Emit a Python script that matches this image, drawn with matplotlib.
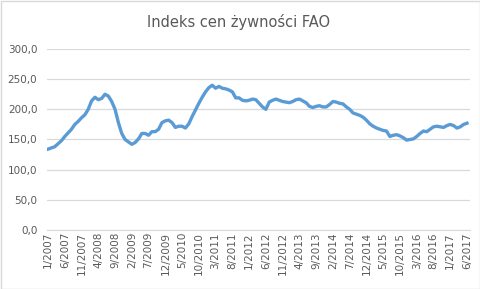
import numpy as np
import matplotlib
matplotlib.use('Agg')
import matplotlib.pyplot as plt
from matplotlib.patches import Rectangle

# monthly FAO food price index, 1/2007 .. 6/2017
values = [
    134, 136, 138, 143, 148, 155, 161, 167, 175, 180, 186, 191,   # 2007
    200, 214, 220, 216, 218, 225, 222, 213, 200, 178, 160, 150,   # 2008
    146, 142, 145, 151, 160, 160, 157, 163, 163, 167, 178, 181,   # 2009
    182, 178, 170, 172, 172, 169, 176, 188, 199, 210, 220, 229,   # 2010
    236, 240, 235, 238, 235, 234, 232, 229, 219, 219, 215, 214,   # 2011
    215, 217, 216, 210, 204, 200, 212, 215, 217, 215, 213, 212,   # 2012
    211, 213, 216, 217, 214, 211, 205, 203, 205, 206, 204, 204,   # 2013
    208, 213, 212, 210, 209, 204, 200, 194, 192, 190, 187, 182,   # 2014
    176, 172, 169, 167, 165, 164, 155, 157, 158, 156, 153, 149,   # 2015
    150, 151, 155, 160, 164, 163, 167, 171, 172, 171, 170, 173,   # 2016
    175, 173, 169, 171, 175, 177,                                 # 2017
]
months = ['%d/%d' % (m, y) for y in range(2007, 2018) for m in range(1, 13)][:len(values)]
yticks = [0, 50, 100, 150, 200, 250, 300]

W, H = 481, 289
fig = plt.figure(figsize=(W / 100, H / 100), dpi=100)
fig.patches.append(Rectangle((0.5 / W, 0.5 / H), 1 - 1.5 / W, 1 - 1.5 / H,
                             transform=fig.transFigure, fill=False,
                             edgecolor='#d9d9d9', lw=1))

ax = fig.add_axes([47 / W, 1 - 230 / H, 423 / W, 181 / H])
x = np.arange(len(values))
ax.plot(x, values, color='#5b9bd5', lw=2.4, solid_joinstyle='round', zorder=3)

ax.set_ylim(0, 300)
ax.set_xlim(-0.3, 125.9)
ax.set_yticks(yticks)
# decimal comma, as in the original
ax.set_yticklabels([('%.1f' % v).replace('.', ',') for v in yticks],
                   fontsize=7.5, color='#595959')
ax.set_xticks(x[::5])
ax.set_xticklabels(months[::5], rotation=90, fontsize=7.5, color='#595959')
ax.tick_params(length=0)
ax.xaxis.set_tick_params(pad=1.5)
ax.yaxis.set_tick_params(pad=7)
ax.grid(axis='y', color='#d9d9d9', lw=0.9)
ax.set_axisbelow(True)
for s in ['top', 'right', 'left']:
    ax.spines[s].set_visible(False)
ax.spines['bottom'].set_color('#d9d9d9')

fig.text(239 / W, 1 - 22 / H, 'Indeks cen żywności FAO', ha='center', va='center',
         fontsize=10.5, color='#595959')

fig.savefig('out.png', dpi=100)
